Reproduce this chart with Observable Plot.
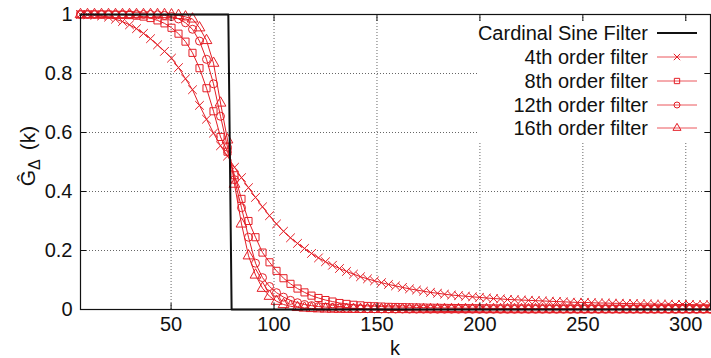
<!DOCTYPE html>
<html><head><meta charset="utf-8">
<script src="https://cdn.jsdelivr.net/npm/d3@7"></script>
<script src="https://cdn.jsdelivr.net/npm/@observablehq/plot@0.6"></script>
<style>body{margin:0;background:#fff} svg{display:block}</style>
</head><body><div id="chart"></div>
<script>
// ---- data ----
const k = [6,9.4,12.8,16.2,19.6,23,26.4,29.8,33.2,36.6,
  40,43.4,46.8,50.2,53.6,57,60.4,63.8,67.2,70.6,
  74,77.4,80.8,84.2,87.6,91,94.4,97.8,101.2,104.6,
  108,111.4,114.8,118.2,121.6,125,128.4,131.8,135.2,138.6,
  142,145.4,148.8,152.2,155.6,159,162.4,165.8,169.2,172.6,
  176,179.4,182.8,186.2,189.6,193,196.4,199.8,203.2,206.6,
  210,213.4,216.8,220.2,223.6,227,230.4,233.8,237.2,240.6,
  244,247.4,250.8,254.2,257.6,261,264.4,267.8,271.2,274.6,
  278,281.4,284.8,288.2,291.6,295,298.4,301.8,305.2,308.6,
  312];
const g4 = [1.000,0.999,0.998,0.995,0.991,0.984,0.976,0.965,0.952,0.936,
  0.918,0.897,0.875,0.852,0.820,0.782,0.745,0.692,0.645,0.598,
  0.555,0.520,0.482,0.447,0.413,0.380,0.348,0.318,0.290,0.265,
  0.243,0.224,0.207,0.190,0.175,0.162,0.150,0.139,0.129,0.120,
  0.111,0.104,0.097,0.091,0.085,0.080,0.075,0.070,0.066,0.062,
  0.058,0.055,0.052,0.049,0.047,0.045,0.043,0.041,0.039,0.037,
  0.036,0.034,0.033,0.032,0.031,0.030,0.029,0.028,0.027,0.026,
  0.025,0.024,0.024,0.023,0.022,0.022,0.021,0.021,0.020,0.020,
  0.019,0.019,0.018,0.018,0.018,0.017,0.017,0.017,0.016,0.016,
  0.016];
const g8 = [1.000,1.000,1.000,1.000,1.000,0.999,0.999,0.998,0.996,0.993,
  0.988,0.980,0.970,0.955,0.935,0.908,0.870,0.818,0.750,0.672,
  0.585,0.535,0.455,0.375,0.300,0.245,0.193,0.160,0.131,0.106,
  0.087,0.071,0.058,0.047,0.039,0.032,0.027,0.022,0.019,0.016,
  0.014,0.012,0.011,0.010,0.009,0.0085,0.008,0.0075,0.007,0.0065,
  0.006,0.0057,0.0054,0.0051,0.0048,0.0046,0.0044,0.0042,0.004,0.0038,
  0.0037,0.0036,0.0035,0.0034,0.0033,0.0032,0.0031,0.003,0.0029,0.0028,
  0.0028,0.0027,0.0027,0.0026,0.0026,0.0025,0.0025,0.0024,0.0024,0.0023,
  0.0023,0.0022,0.0022,0.0022,0.0021,0.0021,0.0021,0.002,0.002,0.002,
  0.002];
const g12 = [1.000,1.000,1.000,1.000,1.000,1.000,1.000,1.000,1.000,1.000,
  1.000,0.999,0.997,0.993,0.985,0.972,0.950,0.910,0.848,0.765,
  0.655,0.550,0.440,0.345,0.245,0.157,0.108,0.078,0.057,0.042,
  0.031,0.023,0.017,0.013,0.010,0.008,0.0065,0.0053,0.0044,0.0037,
  0.0031,0.0027,0.0023,0.002,0.0018,0.0016,0.0014,0.0013,0.0012,0.0011,
  0.001,0.0009,0.0009,0.0008,0.0008,0.0007,0.0007,0.0006,0.0006,0.0006,
  0.0005,0.0005,0.0005,0.0005,0.0005,0.0005,0.0005,0.0005,0.0005,0.0005,
  0.0004,0.0004,0.0004,0.0004,0.0004,0.0004,0.0004,0.0004,0.0004,0.0004,
  0.0003,0.0003,0.0003,0.0003,0.0003,0.0003,0.0003,0.0003,0.0003,0.0003,
  0.0003];
const g16 = [1.000,1.000,1.000,1.000,1.000,1.000,1.000,1.000,1.000,1.000,
  1.000,1.000,1.000,0.999,0.997,0.992,0.985,0.955,0.912,0.835,
  0.700,0.575,0.425,0.290,0.182,0.117,0.072,0.045,0.028,0.017,
  0.011,0.007,0.005,0.0035,0.0025,0.0018,0.0013,0.001,0.0008,0.0006,
  0.0005,0.0004,0.0003,0.0003,0.0002,0.0002,0.0002,0.0001,0.0001,0.0001,
  0.0001,0.0001,0.0001,0.0001,0.0001,0.0001,0.0001,0.0001,0.0001,0.0001,
  0,0,0,0,0,0,0,0,0,0,
  0,0,0,0,0,0,0,0,0,0,
  0,0,0,0,0,0,0,0,0,0,
  0];
const sincK = [6, 77.8, 79.4, 312];
const sincV = [1, 1, 0, 0];
const seriesNames = ["Cardinal Sine Filter","4th order filter","8th order filter","12th order filter","16th order filter"];
const symbolNames = ["times","square","circle","triangle"];
const xTicks = [50,100,150,200,250,300];
const yTicks = [0,0.2,0.4,0.6,0.8,1];
const yTickLabels = ["0","0.2","0.4","0.6","0.8","1"];
const xLabel = "k";

// ---- build ----
const red = "#e41e26";
const rows = [];
[g4, g8, g12, g16].forEach((arr, s) => arr.forEach((v, i) => rows.push({k: k[i], v, s: seriesNames[s + 1]})));
const sinc = sincK.map((x, i) => ({k: x, v: sincV[i]}));
const font = "'Liberation Sans', Arial, Helvetica, sans-serif";

const svg = Plot.plot({
  width: 711, height: 358,
  marginLeft: 80, marginRight: 1, marginTop: 14, marginBottom: 49,
  style: {fontFamily: font, fontSize: "20px", background: "#fff", color: "#111"},
  x: {domain: [6, 312], label: null},
  y: {domain: [0, 1], label: null},
  symbol: {domain: seriesNames.slice(1), range: symbolNames},
  marks: [
    Plot.gridX(xTicks, {stroke: "#666", strokeOpacity: 1, strokeDasharray: "1,2"}),
    Plot.gridY(yTicks.slice(1, -1), {stroke: "#666", strokeOpacity: 1, strokeDasharray: "1,2"}),
    Plot.line(rows, {x: "k", y: "v", z: "s", stroke: red, strokeWidth: 1}),
    Plot.dot(rows, {x: "k", y: "v", symbol: "s", stroke: red, fill: "none", r: 4, strokeWidth: 1}),
    Plot.line(sinc, {x: "k", y: "v", stroke: "#111", strokeWidth: 2}),
    Plot.frame({stroke: "#111", strokeWidth: 1.2}),
    Plot.axisX(xTicks, {anchor: "bottom", tickSize: 0, tickPadding: 7, fontSize: 20}),
    Plot.axisX(xTicks, {anchor: "bottom", tickSize: -6, tickFormat: () => ""}),
    Plot.axisX(xTicks, {anchor: "top", tickSize: -6, tickFormat: () => ""}),
    Plot.axisY(yTicks, {anchor: "left", tickSize: 0, tickPadding: 8, fontSize: 20, tickFormat: (d, i) => yTickLabels[i]}),
    Plot.axisY(yTicks, {anchor: "left", tickSize: -6, tickFormat: () => ""}),
    Plot.axisY(yTicks, {anchor: "right", tickSize: -6, tickFormat: () => ""})
  ]
});
document.getElementById("chart").appendChild(svg);

const s = d3.select(svg);
// x label
s.append("text").attr("x", 395).attr("y", 355).attr("text-anchor", "middle")
  .attr("font-size", 20).attr("fill", "#111").text(xLabel);
// y label
const yl = s.append("text").attr("transform", "translate(35,156) rotate(-90)")
  .attr("text-anchor", "middle").attr("font-size", 21).attr("fill", "#111");
yl.append("tspan").text("\u011C");
yl.append("tspan").attr("font-size", 16).attr("dy", 5).text("\u0394");
yl.append("tspan").attr("dy", -5).attr("dx", 9).text("(k)");

// legend
const lg = s.append("g");
lg.append("rect").attr("x", 477).attr("y", 21).attr("width", 227).attr("height", 121).attr("fill", "#fff");
const rowY = [33, 57, 81, 105, 128];
const symMap = {times: d3.symbolTimes, square: d3.symbolSquare, circle: d3.symbolCircle, triangle: d3.symbolTriangle};
seriesNames.forEach((name, i) => {
  const y = rowY[i];
  lg.append("text").attr("x", 648).attr("y", y).attr("dy", "0.35em").attr("text-anchor", "end")
    .attr("font-size", 20).attr("fill", "#111").text(name);
  lg.append("line").attr("x1", 657).attr("x2", 697).attr("y1", y).attr("y2", y)
    .attr("stroke", i === 0 ? "#111" : red).attr("stroke-width", i === 0 ? 2 : 1)
    .attr("stroke-opacity", i === 0 ? 1 : 0.75);
  if (i > 0) {
    lg.append("path").attr("transform", `translate(677,${y})`)
      .attr("d", d3.symbol(symMap[symbolNames[i - 1]], Math.PI * 9)())
      .attr("fill", "none").attr("stroke", red).attr("stroke-width", 1);
  }
});
</script>
</body></html>
